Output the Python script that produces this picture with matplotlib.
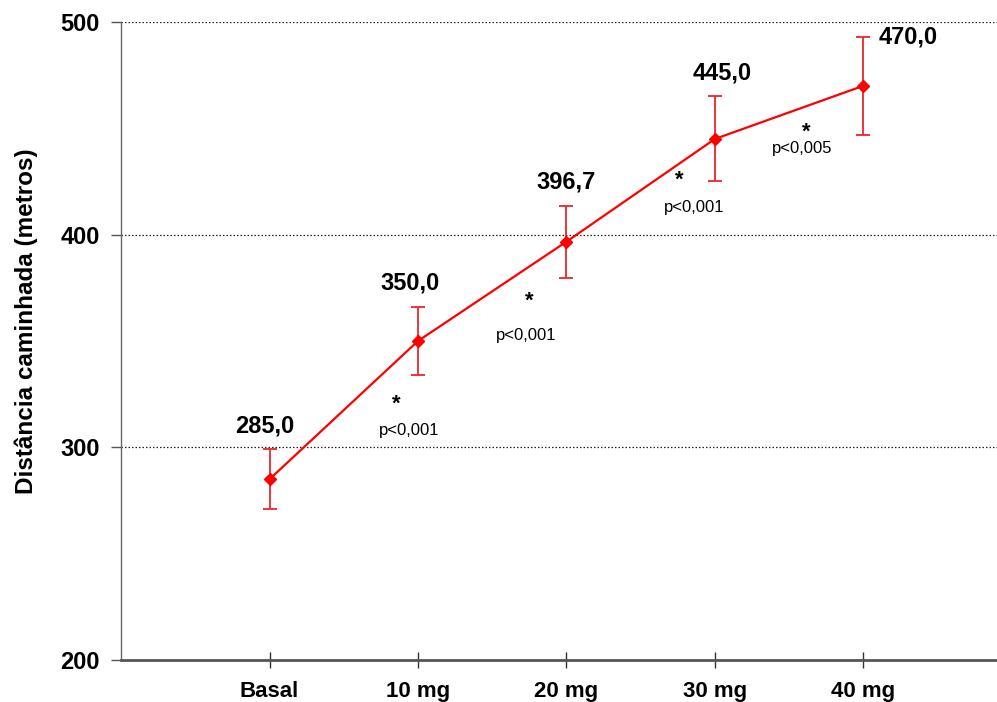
import matplotlib
matplotlib.use('Agg')
import matplotlib.pyplot as plt

categorias = ['Basal', '10 mg', '20 mg', '30 mg', '40 mg']
distancia = [285.0, 350.0, 396.7, 445.0, 470.0]
erro = [14, 16, 17, 20, 23]
rotulos = ['285,0', '350,0', '396,7', '445,0', '470,0']
p_valores = ['p<0,001', 'p<0,001', 'p<0,001', 'p<0,005']

plt.rcParams['font.family'] = ['Liberation Sans', 'DejaVu Sans']

fig = plt.figure(figsize=(9.97, 7.02), dpi=100)
ax = fig.add_axes([0.1214, 0.0598, 0.8786, 0.9089])

x = list(range(len(categorias)))
ax.errorbar(x, distancia, yerr=erro, fmt='none', ecolor='#e8262b', elinewidth=1.3,
            capsize=5, capthick=1.3, zorder=3)
ax.plot(x, distancia, color='#ff0000', lw=1.6, marker='D', ms=6.5, mec='#ff0000',
        mfc='#ff0000', zorder=4)

ax.set_ylim(200, 500)
ax.set_xlim(-1, 4.9)
ax.set_yticks([200, 300, 400, 500])
ax.set_xticks(x)
ax.set_xticklabels(categorias, fontsize=16, fontweight='bold')
ax.set_yticklabels(['200', '300', '400', '500'], fontsize=17, fontweight='bold')
for gy in [300, 400, 500]:
    ax.axhline(gy, color='#222222', lw=0.9, ls=(0, (1.2, 1.6)), zorder=1)

ax.spines['top'].set_visible(False)
ax.spines['right'].set_visible(False)
ax.spines['left'].set_color('#666666')
ax.spines['left'].set_linewidth(1.0)
ax.spines['bottom'].set_color('#555555')
ax.spines['bottom'].set_linewidth(2.0)
ax.tick_params(axis='y', direction='out', length=7, width=1, color='#555555', pad=8.5)
ax.tick_params(axis='x', direction='inout', length=11, width=1, color='#333333', pad=9.5)
ax.set_ylabel('Distância caminhada (metros)', fontsize=17.5, fontweight='bold', va='center')
ax.yaxis.set_label_coords(-0.108, 0.531)

# valores acima das barras de erro
rot_dx = [-5, -8, 0, 7]
for i, (v, e, r) in enumerate(zip(distancia, erro, rotulos)):
    if i == len(distancia) - 1:
        ax.annotate(r, (i, v + e), xytext=(15, 0), textcoords='offset pixels',
                    ha='left', va='center', fontsize=17, fontweight='bold')
    else:
        ax.annotate(r, (i, v + e), xytext=(rot_dx[i], 12), textcoords='offset pixels',
                    ha='center', va='bottom', fontsize=17, fontweight='bold')

# asteriscos e p-valores entre os pontos
estrela_off = [(53, 6), (37, -10), (39, 10), (17, -20)]
p_off = [(65, -20), (34, -44), (53, -17), (13, -36)]
for i, p in enumerate(p_valores):
    mx = i + 0.5
    my = (distancia[i] + distancia[i + 1]) / 2
    ax.annotate('*', (mx, my), xytext=estrela_off[i], textcoords='offset pixels',
                ha='center', va='center', fontsize=16, fontweight='bold')
    ax.annotate(p, (mx, my), xytext=p_off[i], textcoords='offset pixels',
                ha='center', va='center', fontsize=12)

fig.savefig('out.png', dpi=100)
